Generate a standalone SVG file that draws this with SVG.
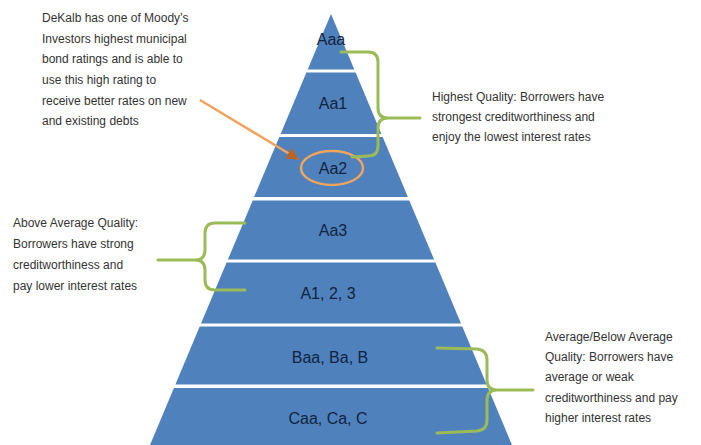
<svg xmlns="http://www.w3.org/2000/svg" width="701" height="445" viewBox="0 0 701 445">
<defs>
<style>
.band{fill:#4F81BD;}
.lbl{font-family:"Liberation Sans",Arial,sans-serif;font-size:16px;fill:#10243E;text-anchor:middle;}
.note{font-family:"Liberation Sans",Arial,sans-serif;font-size:12px;fill:#333333;}
.brace{fill:none;stroke:#9BBB59;stroke-width:3;stroke-linecap:round;stroke-linejoin:round;}
</style>
<marker id="ah" viewBox="0 0 10 10" refX="9" refY="5" markerWidth="5" markerHeight="5" orient="auto">
<path d="M0,0 L10,5 L0,10 z" fill="#B8652A"/>
</marker>
</defs>
<rect width="701" height="445" fill="#ffffff"/>
<g id="band-aaa"><polygon class="band" points="331,14 354.3,69.5 307.7,69.5"/><text class="lbl" x="331" y="45">Aaa</text></g>
<g id="band-aa1"><polygon class="band" points="306.4,72.5 355.6,72.5 381.4,134 280.6,134"/><text class="lbl" x="333" y="109">Aa1</text></g>
<g id="band-aa2"><polygon class="band" points="279.3,137 382.7,137 407.9,197 254.1,197"/><text class="lbl" x="333" y="174">Aa2</text></g>
<g id="band-aa3"><polygon class="band" points="252.7,200.5 409.3,200.5 434.1,259.5 227.9,259.5"/><text class="lbl" x="333" y="236">Aa3</text></g>
<g id="band-a"><polygon class="band" points="226.6,262.5 435.4,262.5 461,323.5 201,323.5"/><text class="lbl" x="328" y="299">A1, 2, 3</text></g>
<g id="band-baa"><polygon class="band" points="199.7,326.5 462.3,326.5 486.6,384.5 175.4,384.5"/><text class="lbl" x="330" y="363">Baa, Ba, B</text></g>
<g id="band-caa"><polygon class="band" points="173.9,388 488.1,388 512,445 150,445"/><text class="lbl" x="328" y="424">Caa, Ca, C</text></g>
<g id="note-dekalb">
<text class="note" x="42" y="22">DeKalb has one of Moody’s</text>
<text class="note" x="42" y="42.5">Investors highest municipal</text>
<text class="note" x="42" y="63">bond ratings and is able to</text>
<text class="note" x="42" y="84">use this high rating to</text>
<text class="note" x="42" y="105">receive better rates on new</text>
<text class="note" x="42" y="125">and existing debts</text>
</g>
<g id="note-highest">
<text class="note" x="432" y="101">Highest Quality: Borrowers have</text>
<text class="note" x="432" y="121">strongest creditworthiness  and</text>
<text class="note" x="432" y="141">enjoy the lowest interest rates</text>
</g>
<g id="note-above">
<text class="note" x="13" y="227">Above Average Quality:</text>
<text class="note" x="13" y="248">Borrowers have strong</text>
<text class="note" x="13" y="269">creditworthiness  and</text>
<text class="note" x="13" y="290">pay lower interest  rates</text>
</g>
<g id="note-below">
<text class="note" x="545" y="341">Average/Below Average</text>
<text class="note" x="545" y="361">Quality: Borrowers have</text>
<text class="note" x="545" y="381">average or weak</text>
<text class="note" x="545" y="402">creditworthiness  and pay</text>
<text class="note" x="545" y="422">higher interest rates</text>
</g>
<g id="connectors">
<ellipse cx="332" cy="168" rx="31" ry="17" fill="none" stroke="#F0A45E" stroke-width="2.5"/>
<line x1="200" y1="100" x2="298" y2="159" stroke="#F0A45E" stroke-width="2.5" marker-end="url(#ah)"/>
<path class="brace" d="M341,52 L368,52 Q378,52 378,62 L378,108 Q378,118 388,118 L420,118 M388,118 Q378,118 378,128 L378,146 Q378,156 368,156 L352,157"/>
<path class="brace" d="M245,223 L215,223 Q205,223 205,233 L205,250 Q205,260 195,260 L158,260 M195,260 Q205,260 205,270 L205,280 Q205,290 215,290 L245,290"/>
<path class="brace" d="M437,348 L477,349 Q487,350 487,360 L487,380 Q487,390 497,390 L533,390 M497,390 Q487,390 487,400 L487,420 Q487,430 477,431 L437,433"/>
</g>
</svg>
